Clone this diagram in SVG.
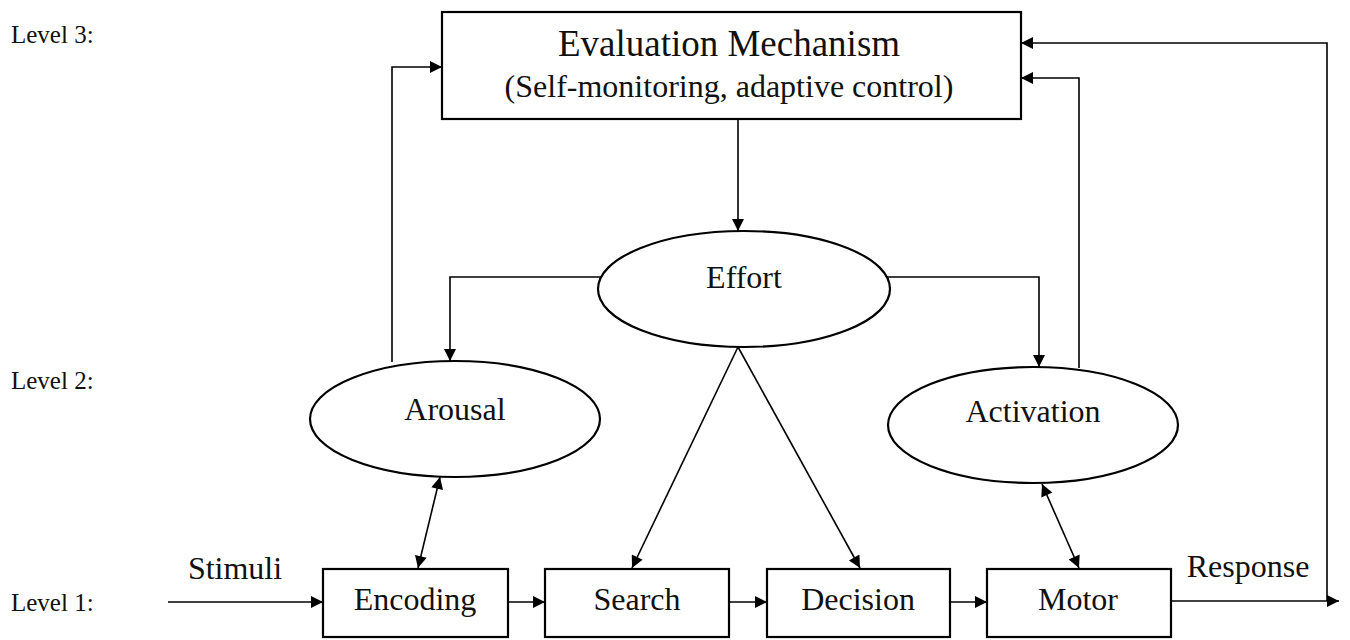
<svg xmlns="http://www.w3.org/2000/svg" width="1350" height="640" viewBox="0 0 1350 640">
<defs>
<marker id="ah" viewBox="0 0 10 10" refX="10" refY="5" markerWidth="14" markerHeight="12" markerUnits="userSpaceOnUse" orient="auto-start-reverse">
<path d="M0,0 L10,5 L0,10 z" fill="#000"/>
</marker>
<style>
.n{fill:#fff;stroke:#000;stroke-width:2.2;}
.c{fill:none;stroke:#000;stroke-width:1.6;}
.lbl{font-size:25px;}
.bt{font-size:32px;text-anchor:middle;}
</style>
</defs>
<rect width="1350" height="640" fill="#fff"/>
<g font-family="'Liberation Serif', 'Times New Roman', 'DejaVu Serif', serif" fill="#111">
<g id="levels">
<text class="lbl" x="11" y="43">Level 3:</text>
<text class="lbl" x="11" y="389">Level 2:</text>
<text class="lbl" x="11" y="611">Level 1:</text>
</g>
<g id="connectors">
<path class="c" d="M738,119 L738,231" marker-end="url(#ah)"/>
<path class="c" d="M601,277 L450,277 L450,361" marker-end="url(#ah)"/>
<path class="c" d="M887,277 L1039,277 L1039,367" marker-end="url(#ah)"/>
<path class="c" d="M392,362 L392,67 L442,67" marker-end="url(#ah)"/>
<path class="c" d="M1079,368 L1079,78 L1021,78" marker-end="url(#ah)"/>
<path class="c" d="M1327,601 L1327,43 L1021,43" marker-end="url(#ah)"/>
<path class="c" d="M738,347 L632,568" marker-end="url(#ah)"/>
<path class="c" d="M738,347 L860,568" marker-end="url(#ah)"/>
<path class="c" d="M418,568 L440,477" marker-start="url(#ah)" marker-end="url(#ah)"/>
<path class="c" d="M1079,568 L1042,484" marker-start="url(#ah)" marker-end="url(#ah)"/>
<path class="c" d="M168,602 L323,602" marker-end="url(#ah)"/>
<path class="c" d="M508,602 L545,602" marker-end="url(#ah)"/>
<path class="c" d="M729,602 L767,602" marker-end="url(#ah)"/>
<path class="c" d="M950,602 L987,602" marker-end="url(#ah)"/>
<path class="c" d="M1171,601 L1339,601" marker-end="url(#ah)"/>
<text class="bt" x="235" y="579">Stimuli</text>
<text class="bt" x="1248" y="577">Response</text>
</g>
<g id="evaluation">
<rect class="n" x="442" y="12" width="579" height="107"/>
<text x="729" y="56" style="font-size:37px;text-anchor:middle">Evaluation Mechanism</text>
<text x="729" y="97" style="font-size:32px;text-anchor:middle">(Self-monitoring, adaptive control)</text>
</g>
<g id="effort">
<ellipse class="n" cx="744" cy="289" rx="146" ry="58"/>
<text class="bt" x="744" y="288">Effort</text>
</g>
<g id="arousal">
<ellipse class="n" cx="455" cy="419" rx="145" ry="58"/>
<text class="bt" x="455" y="420">Arousal</text>
</g>
<g id="activation">
<ellipse class="n" cx="1033" cy="425" rx="145" ry="58"/>
<text class="bt" x="1033" y="422">Activation</text>
</g>
<g id="encoding">
<rect class="n" x="323" y="569" width="185" height="68"/>
<text class="bt" x="415" y="610">Encoding</text>
</g>
<g id="search">
<rect class="n" x="545" y="569" width="184" height="68"/>
<text class="bt" x="637" y="610">Search</text>
</g>
<g id="decision">
<rect class="n" x="767" y="569" width="183" height="68"/>
<text class="bt" x="858" y="610">Decision</text>
</g>
<g id="motor">
<rect class="n" x="987" y="569" width="184" height="68"/>
<text class="bt" x="1078" y="610">Motor</text>
</g>
</g>
</svg>
